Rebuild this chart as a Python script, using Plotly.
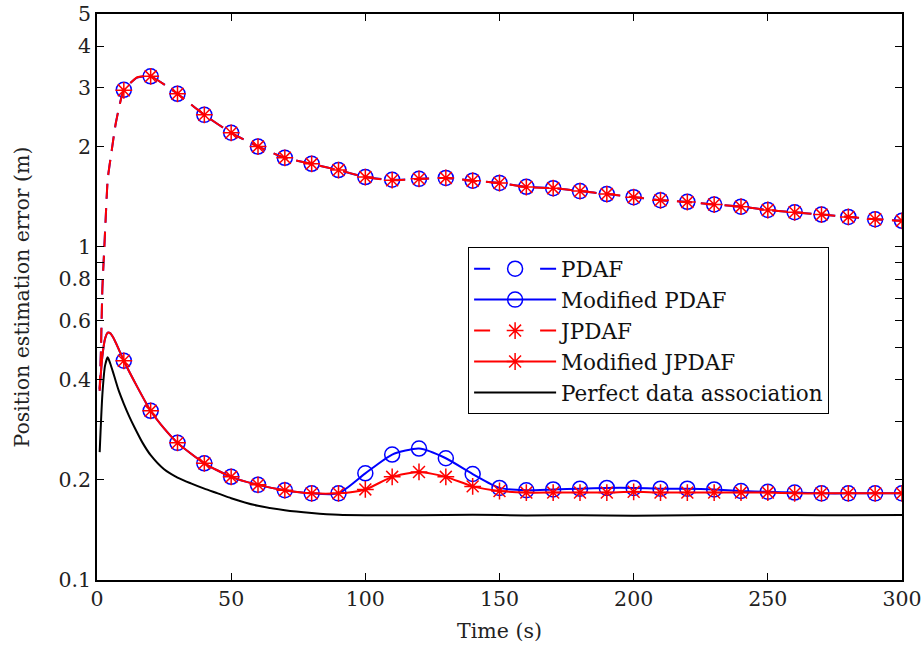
import plotly.graph_objects as go

# ---------------- data ----------------
# PDAF / JPDAF (dashed, upper curves)
t_upper = [1, 1.5, 2, 2.6, 3.2, 4, 5.5, 7, 10, 15, 20, 30, 40, 50, 60, 70, 80, 90, 100,
           110, 120, 130, 140, 150, 160, 170, 180, 190, 200, 210, 220, 230, 240, 250,
           260, 270, 280, 290, 300]
pdaf = [0.37, 0.5, 0.75, 0.95, 1.2, 1.6, 1.95, 2.35, 2.96, 3.22, 3.25, 2.88, 2.49, 2.2,
        2.0, 1.85, 1.775, 1.7, 1.62, 1.59, 1.6, 1.61, 1.58, 1.556, 1.514, 1.5, 1.47,
        1.44, 1.41, 1.38, 1.365, 1.34, 1.32, 1.29, 1.27, 1.25, 1.23, 1.21, 1.197]
jpdaf = [0.37, 0.5, 0.75, 0.95, 1.2, 1.6, 1.95, 2.35, 2.95, 3.23, 3.25, 2.88, 2.49, 2.2,
         2.0, 1.85, 1.775, 1.7, 1.62, 1.585, 1.6, 1.61, 1.58, 1.555, 1.512, 1.5, 1.47,
         1.44, 1.41, 1.38, 1.363, 1.34, 1.32, 1.29, 1.27, 1.25, 1.23, 1.21, 1.197]

# Modified PDAF / Modified JPDAF (solid, lower curves)
t_lower = [1, 2, 3, 4, 5, 6, 8, 10, 15, 20, 25, 30, 40, 50, 60, 70, 80, 90, 100, 110,
           120, 130, 140, 150, 160, 170, 180, 190, 200, 210, 220, 230, 240, 250, 260,
           270, 280, 290, 300]
mod_pdaf = [0.375, 0.47, 0.53, 0.553, 0.55, 0.535, 0.495, 0.455, 0.38, 0.322, 0.285,
            0.258, 0.224, 0.204, 0.193, 0.186, 0.182, 0.182, 0.209, 0.238, 0.248, 0.232,
            0.208, 0.189, 0.186, 0.187, 0.188, 0.189, 0.189, 0.188, 0.188, 0.187, 0.185,
            0.184, 0.183, 0.182, 0.182, 0.182, 0.182]
mod_jpdaf = [0.375, 0.47, 0.53, 0.553, 0.55, 0.535, 0.495, 0.455, 0.38, 0.322, 0.285,
             0.258, 0.224, 0.204, 0.193, 0.186, 0.182, 0.182, 0.187, 0.204, 0.211, 0.204,
             0.191, 0.185, 0.183, 0.183, 0.183, 0.183, 0.184, 0.183, 0.183, 0.183, 0.183,
             0.183, 0.182, 0.182, 0.182, 0.182, 0.182]

# Perfect data association (black)
t_perfect = [1, 2, 3, 4, 5, 6, 7, 8, 10, 12, 14, 17, 20, 25, 30, 35, 40, 45, 50, 60, 70,
             80, 90, 100, 120, 140, 160, 180, 200, 220, 240, 260, 280, 300]
perfect = [0.242, 0.36, 0.44, 0.466, 0.445, 0.42, 0.395, 0.372, 0.338, 0.31, 0.287, 0.258,
           0.237, 0.215, 0.203, 0.195, 0.188, 0.182, 0.176, 0.167, 0.162, 0.159, 0.157,
           0.1565, 0.1565, 0.157, 0.1563, 0.1565, 0.156, 0.1565, 0.1568, 0.1566,
           0.1565, 0.1566]

y_tickvals = [0.1, 0.2, 0.3, 0.4, 0.5, 0.6, 0.7, 0.8, 0.9, 1, 2, 3, 4, 5]
y_ticktext = ["0.1", "0.2", "", "0.4", "", "0.6", "", "0.8", "", "1", "2", "3", "4", "5"]
x_tickvals = [0, 50, 100, 150, 200, 250, 300]

BLUE = "#0000ff"
RED = "#ff0000"
FONT = "'DejaVu Serif', serif"
FS = 20.5
TXT = "#222222"


def every10(t, y):
    xs, ys = [], []
    for a, b in zip(t, y):
        if a >= 10 and a % 10 == 0:
            xs.append(a)
            ys.append(b)
    return xs, ys


fig = go.Figure()

circle = dict(symbol="circle-open", size=15, color=BLUE, line=dict(width=1.5, color=BLUE))
star = dict(symbol="asterisk-open", size=14, color=RED, line=dict(width=1.5, color=RED))
dash = "15px,9px"

# black perfect line
fig.add_trace(go.Scatter(x=t_perfect, y=perfect, mode="lines", showlegend=False,
                         line=dict(color="black", width=2, shape="spline", smoothing=0.6)))

# PDAF dashed
fig.add_trace(go.Scatter(x=t_upper, y=pdaf, mode="lines", showlegend=False,
                         line=dict(color=BLUE, width=2, dash=dash, shape="spline", smoothing=0.5)))
mx, my = every10(t_upper, pdaf)
fig.add_trace(go.Scatter(x=mx, y=my, mode="markers", marker=circle, showlegend=False))

# Modified PDAF solid
fig.add_trace(go.Scatter(x=t_lower, y=mod_pdaf, mode="lines", showlegend=False,
                         line=dict(color=BLUE, width=2, shape="spline", smoothing=0.6)))
mx, my = every10(t_lower, mod_pdaf)
fig.add_trace(go.Scatter(x=mx, y=my, mode="markers", marker=circle, showlegend=False))

# JPDAF dashed
fig.add_trace(go.Scatter(x=t_upper, y=jpdaf, mode="lines", showlegend=False,
                         line=dict(color=RED, width=2, dash=dash, shape="spline", smoothing=0.5)))
mx, my = every10(t_upper, jpdaf)
fig.add_trace(go.Scatter(x=mx, y=my, mode="markers", marker=star, showlegend=False))

# Modified JPDAF solid
fig.add_trace(go.Scatter(x=t_lower, y=mod_jpdaf, mode="lines", showlegend=False,
                         line=dict(color=RED, width=2, shape="spline", smoothing=0.6)))
mx, my = every10(t_lower, mod_jpdaf)
fig.add_trace(go.Scatter(x=mx, y=my, mode="markers", marker=star, showlegend=False))

# legend entries
leg_dash = "16px,50px"
fig.add_trace(go.Scatter(x=[None], y=[None], mode="lines+markers", name="PDAF",
                         line=dict(color=BLUE, width=2, dash=leg_dash), marker=circle))
fig.add_trace(go.Scatter(x=[None], y=[None], mode="lines+markers", name="Modified PDAF",
                         line=dict(color=BLUE, width=2), marker=circle))
fig.add_trace(go.Scatter(x=[None], y=[None], mode="lines+markers", name="JPDAF",
                         line=dict(color=RED, width=2, dash=leg_dash), marker=star))
fig.add_trace(go.Scatter(x=[None], y=[None], mode="lines+markers", name="Modified JPDAF",
                         line=dict(color=RED, width=2), marker=star))
fig.add_trace(go.Scatter(x=[None], y=[None], mode="lines", name="Perfect data association",
                         line=dict(color="black", width=2)))

axis_common = dict(showline=True, linecolor="black", linewidth=1.5, mirror="ticks",
                   ticks="inside", ticklen=7, tickwidth=1.2, tickcolor="black",
                   showgrid=False, zeroline=False, automargin=False,
                   tickfont=dict(family=FONT, size=FS, color=TXT))

fig.update_xaxes(range=[0, 300], tickvals=x_tickvals,
                 title=dict(text="Time (s)", font=dict(family=FONT, size=FS, color=TXT),
                            standoff=13),
                 **axis_common)
fig.update_yaxes(type="log", range=[-1, 0.69897], tickvals=y_tickvals, ticktext=y_ticktext,
                 title=dict(text="Position estimation error (m)",
                            font=dict(family=FONT, size=FS, color=TXT), standoff=23),
                 **axis_common)

fig.update_layout(
    width=922, height=649,
    margin=dict(l=97, r=20, t=14, b=69),
    paper_bgcolor="white", plot_bgcolor="white",
    font=dict(family=FONT, size=FS, color=TXT),
    legend=dict(x=0.461, y=0.588, xanchor="left", yanchor="top",
                bordercolor="black", borderwidth=1, bgcolor="white",
                font=dict(family=FONT, size=21.5, color="#111111"),
                itemwidth=82, tracegroupgap=0),
)

fig.write_html("out.html")
